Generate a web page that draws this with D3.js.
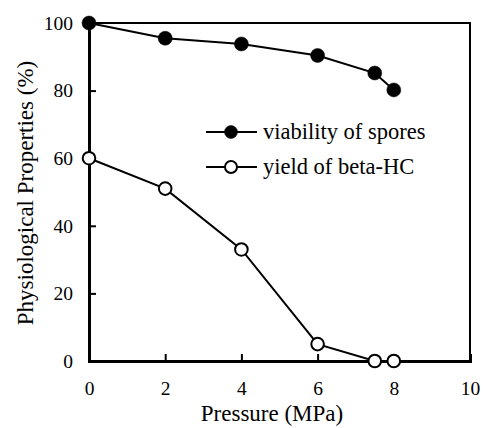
<!DOCTYPE html>
<html>
<head>
<meta charset="utf-8">
<script src="https://cdn.jsdelivr.net/npm/d3@7"></script>
<style>
  body { margin: 0; background: #fff; }
  text { font-family: "Liberation Serif", "Times New Roman", serif; fill: #000; }
</style>
</head>
<body>
<div id="chart"></div>
<script>
const pressure = [0, 2, 4, 6, 7.5, 8];
const viability = [100, 95.5, 93.8, 90.4, 85.2, 80.2];
const yieldBetaHC = [60, 51, 33, 5, 0, 0];
const xTicks = [0, 2, 4, 6, 8, 10];
const yTicks = [0, 20, 40, 60, 80, 100];
const seriesNames = ["viability of spores", "yield of beta-HC"];

const width = 483, height = 428;
const margin = { top: 23, right: 13, bottom: 67, left: 89 };
const innerW = width - margin.left - margin.right;
const innerH = height - margin.top - margin.bottom;

const svg = d3.select("#chart").append("svg")
    .attr("width", width)
    .attr("height", height);

const x = d3.scaleLinear().domain([0, 10]).range([0, innerW]);
const y = d3.scaleLinear().domain([0, 100]).range([innerH, 0]);

const g = svg.append("g")
    .attr("transform", `translate(${margin.left}, ${margin.top})`);

// frame
g.append("rect")
    .attr("width", innerW).attr("height", innerH)
    .attr("fill", "none").attr("stroke", "#000").attr("stroke-width", 2);

// axes with inward ticks
const xAxis = g.append("g")
    .attr("transform", `translate(0, ${innerH})`)
    .call(d3.axisBottom(x).tickValues(xTicks).tickSize(-7).tickPadding(20).tickFormat(d3.format("d")));
const yAxis = g.append("g")
    .call(d3.axisLeft(y).tickValues(yTicks).tickSize(-7).tickPadding(16));

[xAxis, yAxis].forEach(a => {
    a.attr("font-size", null).attr("font-family", null);
    a.select(".domain").attr("stroke-width", 3);
    a.selectAll(".tick line").attr("stroke-width", 2);
    a.selectAll(".tick text").style("font-size", "19.5px");
});
yAxis.selectAll(".tick line").filter(d => d === 0 || d === 100).remove();
xAxis.selectAll(".tick line").filter(d => d === 0 || d === 10).remove();

svg.append("text")
    .attr("x", 272).attr("y", 421)
    .attr("text-anchor", "middle").attr("font-size", 23)
    .text("Pressure (MPa)");

svg.append("text")
    .attr("transform", `translate(33, 193) rotate(-90)`)
    .attr("text-anchor", "middle").attr("font-size", 23)
    .text("Physiological Properties (%)");

const line = d3.line().x(d => x(d[0])).y(d => y(d[1]));
const seriesData = [
    d3.zip(pressure, viability),
    d3.zip(pressure, yieldBetaHC)
];
const fills = ["#000", "#fff"];

seriesData.forEach((data, i) => {
    g.append("path").datum(data)
        .attr("fill", "none").attr("stroke", "#000").attr("stroke-width", 2)
        .attr("d", line);
    g.selectAll(null).data(data).enter().append("circle")
        .attr("cx", d => x(d[0])).attr("cy", d => y(d[1]))
        .attr("r", i ? 6.3 : 7)
        .attr("fill", fills[i]).attr("stroke", "#000").attr("stroke-width", i ? 2 : 0.5);
});

// legend
const legend = svg.append("g").attr("transform", "translate(206, 132)");
seriesNames.forEach((name, i) => {
    const row = legend.append("g").attr("transform", `translate(0, ${i * 35})`);
    row.append("line").attr("x1", 0).attr("x2", 51)
        .attr("stroke", "#000").attr("stroke-width", 2);
    row.append("circle").attr("cx", 25).attr("cy", 0).attr("r", i ? 6 : 6.5)
        .attr("fill", fills[i]).attr("stroke", "#000").attr("stroke-width", i ? 2 : 0.5);
    row.append("text").attr("x", 57).attr("y", 7).attr("font-size", 22.5).text(name);
});
</script>
</body>
</html>
